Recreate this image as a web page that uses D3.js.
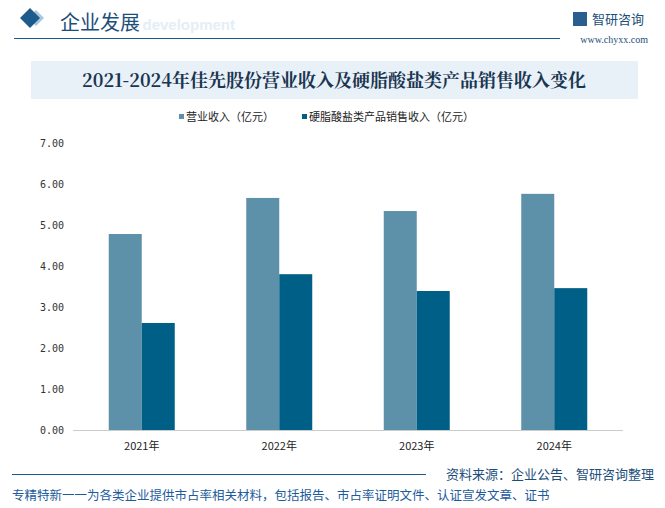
<!DOCTYPE html>
<html><head><meta charset="utf-8">
<script src="https://cdn.jsdelivr.net/npm/d3@7"></script>
<style>body{margin:0;background:#fff}svg{display:block;font-family:"Noto Sans CJK SC","Noto Sans",sans-serif}</style>
</head><body><svg width="665" height="508"></svg>
<script>
const years = ["2021年", "2022年", "2023年", "2024年"];
const revenue = [4.78, 5.66, 5.34, 5.76];
const stearate = [2.61, 3.80, 3.39, 3.46];
const seriesNames = ["营业收入（亿元）", "硬脂酸盐类产品销售收入（亿元）"];
const colors = ["#5d90a9", "#005f86"];
const yTicks = [0, 1, 2, 3, 4, 5, 6, 7];

const svg = d3.select("svg");

// header
svg.append("path").attr("d", "M28,18 L36,10 L44,18 L36,26Z").attr("fill", "#a9c8de");
svg.append("path").attr("d", "M20,18 L30,8 L40,18 L30,28Z").attr("fill", "#1c5b8c");
svg.append("text").attr("x", 130).attr("y", 30).text("e development")
  .attr("font-family", "Liberation Sans,Arial").attr("font-weight", "bold").attr("font-size", 15).attr("fill", "#e4eef6");
svg.append("text").attr("x", 60).attr("y", 30).text("企业发展").attr("font-size", 20).attr("fill", "#1c4e7a");
svg.append("line").attr("x1", 14).attr("x2", 560).attr("y1", 38.5).attr("y2", 38.5).attr("stroke", "#1c5b8c");
svg.append("text").attr("x", 592).attr("y", 24).text("智研咨询").attr("font-size", 13).attr("fill", "#1c4e7a");
svg.append("rect").attr("x", 573).attr("y", 12).attr("width", 14).attr("height", 14).attr("fill", "#2a5d90");
svg.append("text").attr("x", 648).attr("y", 43).attr("text-anchor", "end").text("www.chyxx.com")
  .attr("font-family", "Liberation Serif").attr("font-size", 10).attr("fill", "#1c4e7a");

// title
svg.append("rect").attr("x", 31).attr("y", 61).attr("width", 607).attr("height", 38).attr("fill", "#e8f1f8");
svg.append("text").attr("x", 334).attr("y", 87).attr("text-anchor", "middle")
  .text("2021-2024年佳先股份营业收入及硬脂酸盐类产品销售收入变化")
  .attr("font-family", "Noto Serif CJK SC,Noto Sans CJK SC").attr("font-weight", "bold").attr("font-size", 18).attr("fill", "#1a3550");

// legend
const legendX = [179, 302];
seriesNames.forEach((s, i) => {
  svg.append("rect").attr("x", legendX[i]).attr("y", 114).attr("width", 5).attr("height", 5).attr("fill", colors[i]);
  svg.append("text").attr("x", legendX[i] + 7).attr("y", 121).text(s).attr("font-size", 11).attr("fill", "#222");
});

// chart
const x = d3.scaleBand().domain(years).range([73, 623]);
const y = d3.scaleLinear().domain([0, 7]).range([430, 143]);
const bw = 33;

svg.append("g").selectAll("text").data(yTicks).join("text")
  .attr("x", 64).attr("y", d => y(d) + 4).attr("text-anchor", "end")
  .attr("font-family", "DejaVu Sans Mono").attr("font-size", 10).attr("fill", "#333")
  .text(d => d.toFixed(2));

[revenue, stearate].forEach((vals, si) => {
  svg.append("g").selectAll("rect").data(vals).join("rect")
    .attr("x", (d, i) => x(years[i]) + x.bandwidth() / 2 - bw + si * bw)
    .attr("y", d => y(d)).attr("width", bw).attr("height", d => y(0) - y(d))
    .attr("fill", colors[si]);
});
svg.append("line").attr("x1", 73).attr("x2", 623).attr("y1", 430.5).attr("y2", 430.5).attr("stroke", "#ccc");
svg.append("g").selectAll("text").data(years).join("text")
  .attr("x", d => x(d) + x.bandwidth() / 2).attr("y", 450).attr("text-anchor", "middle")
  .attr("font-size", 11).attr("fill", "#222").text(d => d);

// footer
svg.append("line").attr("x1", 12).attr("x2", 426).attr("y1", 474.5).attr("y2", 474.5).attr("stroke", "#1c5b8c");
svg.append("text").attr("x", 654).attr("y", 479).attr("text-anchor", "end")
  .text("资料来源：企业公告、智研咨询整理").attr("font-size", 13).attr("fill", "#1c4e7a");
svg.append("text").attr("x", 12).attr("y", 500)
  .text("专精特新一一为各类企业提供市占率相关材料，包括报告、市占率证明文件、认证宣发文章、证书").attr("font-size", 12.5).attr("fill", "#1c5b9c");
</script></body></html>
